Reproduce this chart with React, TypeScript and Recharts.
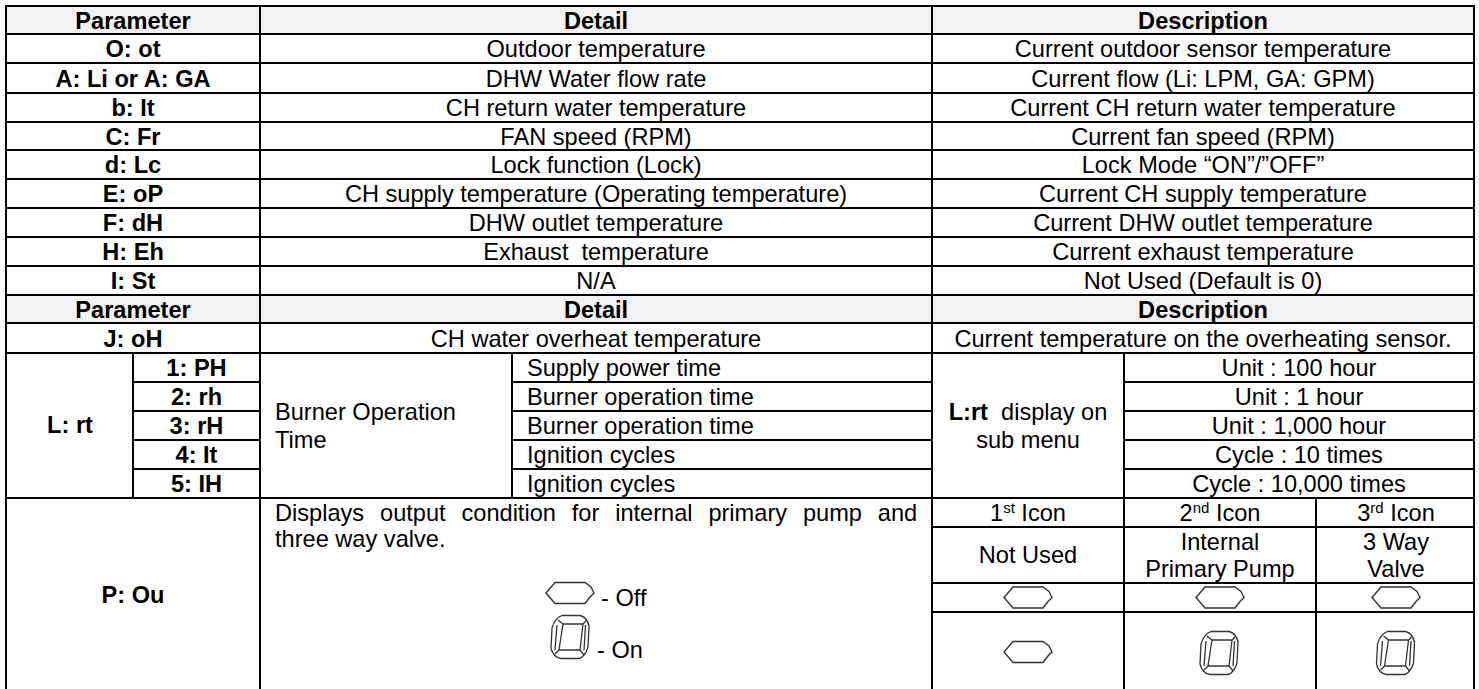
import { ScatterChart, Scatter, XAxis, YAxis, ReferenceLine, ReferenceArea } from "recharts";

const WIDTH = 1479;
const HEIGHT = 689;
const FONT = "'Liberation Sans', Arial, sans-serif";
const FONT_SIZE = 23.6;

// table text
const headerLabels = ["Parameter", "Detail", "Description"];
const parameterLabels = ["O: ot", "A: Li or A: GA", "b: It", "C: Fr", "d: Lc", "E: oP", "F: dH", "H: Eh", "I: St"];
const detailLabels = [
  "Outdoor temperature",
  "DHW Water flow rate",
  "CH return water temperature",
  "FAN speed (RPM)",
  "Lock function (Lock)",
  "CH supply temperature (Operating temperature)",
  "DHW outlet temperature",
  "Exhaust  temperature",
  "N/A",
];
const descriptionLabels = [
  "Current outdoor sensor temperature",
  "Current flow (Li: LPM, GA: GPM)",
  "Current CH return water temperature",
  "Current fan speed (RPM)",
  "Lock Mode “ON”/”OFF”",
  "Current CH supply temperature",
  "Current DHW outlet temperature",
  "Current exhaust temperature",
  "Not Used (Default is 0)",
];
const overheatRow = ["J: oH", "CH water overheat temperature", "Current temperature on the overheating sensor."];
const subParameterLabels = ["1: PH", "2: rh", "3: rH", "4: It", "5: IH"];
const subDetailLabels = [
  "Supply power time",
  "Burner operation time",
  "Burner operation time",
  "Ignition cycles",
  "Ignition cycles",
];
const subUnitLabels = ["Unit : 100 hour", "Unit : 1 hour", "Unit : 1,000 hour", "Cycle : 10 times", "Cycle : 10,000 times"];
const iconOrdinals = ["1", "2", "3"];
const iconSuffixes = ["st", "nd", "rd"];

// table layout, in page pixels (the axes run 0..WIDTH and 0..HEIGHT)
const rowEdges = [6, 34, 63, 93, 122, 150, 179, 208, 237, 266, 295, 323, 353, 382, 411, 440, 469, 498];
const colEdges = { left: 6, sub: 133, detail: 260, subDetail: 512, desc: 932, unit: 1124, third: 1316, right: 1474 };
const iconCols = [1028, 1220, 1396];
const hRules = [
  ...rowEdges.slice(0, 13).map((y) => ({ y, x1: colEdges.left, x2: colEdges.right })),
  ...rowEdges.slice(13, 17).flatMap((y) => [
    { y, x1: colEdges.sub, x2: colEdges.detail },
    { y, x1: colEdges.subDetail, x2: colEdges.desc },
    { y, x1: colEdges.unit, x2: colEdges.right },
  ]),
  { y: 498, x1: colEdges.left, x2: colEdges.right },
  { y: 527, x1: colEdges.desc, x2: colEdges.right },
  { y: 583, x1: colEdges.desc, x2: colEdges.right },
  { y: 612, x1: colEdges.desc, x2: colEdges.right },
];
const vRules = [
  { x: colEdges.left, y1: 5, y2: HEIGHT },
  { x: colEdges.detail, y1: 6, y2: HEIGHT },
  { x: colEdges.desc, y1: 6, y2: HEIGHT },
  { x: colEdges.right, y1: 5, y2: HEIGHT },
  { x: colEdges.sub, y1: 353, y2: 498 },
  { x: colEdges.subDetail, y1: 353, y2: 498 },
  { x: colEdges.unit, y1: 353, y2: HEIGHT },
  { x: colEdges.third, y1: 498, y2: HEIGHT },
];
const headerBands = [
  [6, 34],
  [295, 323],
];

const rowMid = (i: number) => (rowEdges[i] + rowEdges[i + 1]) / 2;
const mainCols = [133, 596, 1203];
const BASE = 8.5; // baseline below row middle

type Lab = { x: number; y: number; text: string; bold?: boolean; anchor?: string; spacing?: number; lead?: string; sup?: string; tail?: string };

const labels: Lab[] = [
  ...[0, 10].flatMap((row) =>
    headerLabels.map((text, i) => ({ x: mainCols[i], y: rowMid(row) + BASE, text, bold: true }))
  ),
  ...parameterLabels.map((text, i) => ({ x: mainCols[0], y: rowMid(i + 1) + BASE, text, bold: true })),
  ...detailLabels.map((text, i) => ({ x: mainCols[1], y: rowMid(i + 1) + BASE, text })),
  ...descriptionLabels.map((text, i) => ({ x: mainCols[2], y: rowMid(i + 1) + BASE, text })),
  ...overheatRow.map((text, i) => ({ x: mainCols[i], y: rowMid(11) + BASE, text, bold: i === 0 })),
  ...subParameterLabels.map((text, i) => ({ x: 196.5, y: rowMid(12 + i) + BASE, text, bold: true })),
  ...subDetailLabels.map((text, i) => ({ x: 527, y: rowMid(12 + i) + BASE, text, anchor: "start" })),
  ...subUnitLabels.map((text, i) => ({ x: 1299, y: rowMid(12 + i) + BASE, text })),
  { x: 70, y: 433, text: "L: rt", bold: true },
  { x: 275, y: 420, text: "Burner Operation", anchor: "start" },
  { x: 275, y: 447.5, text: "Time", anchor: "start" },
  { x: 1028, y: 420, text: "  display on", lead: "L:rt" },
  { x: 1028, y: 447.5, text: "sub menu" },
  { x: 133, y: 603, text: "P: Ou", bold: true },
  { x: 275, y: 521, text: "Displays output condition for internal primary pump and", anchor: "start", spacing: 9.3 },
  { x: 275, y: 547, text: "three way valve.", anchor: "start" },
  { x: 601, y: 605.5, text: "- Off", anchor: "start" },
  { x: 597, y: 658, text: "- On", anchor: "start" },
  ...iconOrdinals.map((text, i) => ({ x: iconCols[i], y: 521, text, sup: iconSuffixes[i], tail: " Icon" })),
  { x: iconCols[0], y: 562.5, text: "Not Used" },
  { x: iconCols[1], y: 550, text: "Internal" },
  { x: iconCols[1], y: 577, text: "Primary Pump" },
  { x: iconCols[2], y: 550, text: "3 Way" },
  { x: iconCols[2], y: 577, text: "Valve" },
];

const offIcons = [
  { x: 570, y: 593 },
  { x: iconCols[0], y: 597.5 },
  { x: iconCols[1], y: 597.5 },
  { x: iconCols[2], y: 597.5 },
  { x: iconCols[0], y: 652 },
];
const onIcons = [
  { x: 570, y: 637 },
  { x: 1219, y: 653 },
  { x: 1395.5, y: 653 },
];

function LabelShape(props: any) {
  const { cx, cy, payload } = props;
  const p: Lab = payload;
  return (
    <text
      x={cx}
      y={cy}
      textAnchor={p.anchor ?? "middle"}
      fontFamily={FONT}
      fontSize={FONT_SIZE}
      fontWeight={p.bold ? 700 : 400}
      fill="#000"
      wordSpacing={p.spacing}
      style={{ whiteSpace: "pre" }}
    >
      {p.lead && <tspan fontWeight={700}>{p.lead}</tspan>}
      {p.text}
      {p.sup && (
        <tspan fontSize={15} dy={-8}>
          {p.sup}
        </tspan>
      )}
      {p.tail && <tspan dy={8}>{p.tail}</tspan>}
    </text>
  );
}

function OffShape(props: any) {
  const { cx, cy } = props;
  return (
    <polygon
      transform={`translate(${cx},${cy})`}
      points="-24,0 -15,-10.5 15,-10.5 21,-6 24,0 20,4 15,10.5 -15,10.5"
      fill="none"
      stroke="#333"
      strokeWidth={1.4}
    />
  );
}

function OnShape(props: any) {
  const { cx, cy } = props;
  return (
    <g transform={`translate(${cx},${cy})`} fill="none" stroke="#333" strokeWidth={1.3}>
      <path d="M-8,-21.5 H10 Q17,-20 19,-11 L18,10 Q15,20 9,21.5 H-9 Q-17,20 -19,11 L-18,-9 Q-15,-19 -8,-21.5 Z" />
      <polygon points="-7,-13 13,-13 10,13 -11,13" />
      <path d="M-12,-17 L-7,-13 M16,-16 L13,-13 M-15,17 L-11,13 M14,18 L10,13" />
      <path d="M-13,-12 L-15,13 M15.5,-12 L14,13" />
    </g>
  );
}

export default function App() {
  return (
    <div style={{ position: "absolute", left: 0, top: 0, width: WIDTH, height: HEIGHT, background: "#fff" }}>
      <ScatterChart width={WIDTH} height={HEIGHT} margin={{ top: 0, right: 0, bottom: 0, left: 0 }}>
        <XAxis hide type="number" dataKey="x" domain={[0, WIDTH]} allowDataOverflow />
        <YAxis hide reversed type="number" dataKey="y" domain={[0, HEIGHT]} allowDataOverflow />
        {headerBands.map(([y1, y2], i) => (
          <ReferenceArea
            key={i}
            x1={colEdges.left}
            x2={colEdges.right}
            y1={y1}
            y2={y2}
            fill="#f2f2f2"
            fillOpacity={1}
            stroke="none"
            ifOverflow="visible"
          />
        ))}
        {hRules.map((r, i) => (
          <ReferenceLine
            key={`h${i}`}
            segment={[
              { x: r.x1 - 1, y: r.y },
              { x: r.x2 + 1, y: r.y },
            ]}
            stroke="#000"
            strokeWidth={2}
            ifOverflow="visible"
          />
        ))}
        {vRules.map((r, i) => (
          <ReferenceLine
            key={`v${i}`}
            segment={[
              { x: r.x, y: r.y1 },
              { x: r.x, y: r.y2 },
            ]}
            stroke="#000"
            strokeWidth={2}
            ifOverflow="visible"
          />
        ))}
        <Scatter data={labels} shape={LabelShape} isAnimationActive={false} />
        <Scatter data={offIcons} shape={OffShape} isAnimationActive={false} />
        <Scatter data={onIcons} shape={OnShape} isAnimationActive={false} />
      </ScatterChart>
    </div>
  );
}
